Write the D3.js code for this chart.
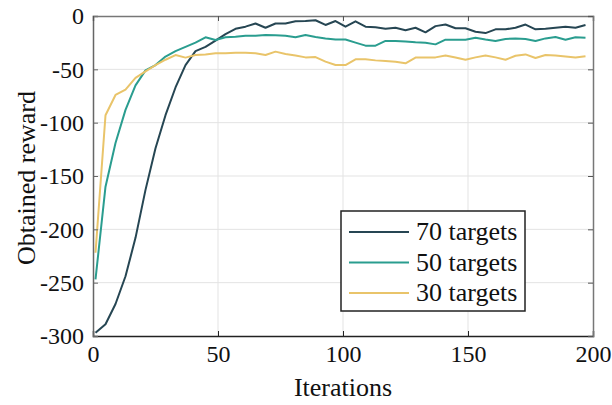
<!DOCTYPE html>
<html>
<head>
<meta charset="utf-8">
<script src="https://cdn.jsdelivr.net/npm/d3@7"></script>
<style>
  body { margin: 0; background: #fff; }
  svg text { font-family: 'Liberation Serif', serif !important; fill: #111; }
</style>
</head>
<body>
<svg id="chart" width="612" height="405"></svg>
<script>
// iterations where each run was sampled
var iterations = [1, 5, 9, 13, 17, 21, 25, 29, 33, 37, 41, 45, 49, 53, 57, 61, 65, 69, 73, 77,
    81, 85, 89, 93, 97, 101, 105, 109, 113, 117, 121, 125, 129, 133, 137, 141, 145, 149, 153, 157,
    161, 165, 169, 173, 177, 181, 185, 189, 193, 197];

var reward70 = [-297, -289, -270, -244, -208, -163, -124, -93, -67, -46, -33, -29, -23, -17, -12, -10, -7, -11, -7, -7,
    -5, -4.7, -4, -8.4, -4.7, -10, -5, -10, -10.6, -12, -11, -13.4, -11, -15.3, -9.5, -8, -11.5, -11.5, -14.7, -16,
    -12.5, -12.5, -11, -8, -12.5, -12, -11, -10, -11, -8.5];

var reward50 = [-247, -160, -119, -88, -65, -51, -46, -38, -33, -29, -25, -20, -22.5, -20, -19.4, -18.5, -18.5, -17.8, -18, -18.5,
    -20, -17.8, -19.7, -21, -22, -22, -25, -27.8, -27.8, -23.4, -23.4, -24, -24.7, -25, -26.6, -22.2, -22.2, -22.2, -20.3, -22,
    -23.4, -21.5, -21, -21.5, -23.4, -21, -19.7, -22.2, -20, -20.3];

var reward30 = [-222, -93, -74, -69, -58, -52, -46, -41, -36.6, -39, -36.6, -36, -35, -35, -34.4, -34.4, -35, -36.6, -33.4, -35.6,
    -37, -38.8, -38.5, -42.8, -46, -46, -40.6, -40.6, -41.6, -42.2, -42.8, -44.4, -39, -39, -38.8, -37, -39, -41, -38.8, -37,
    -38.8, -41, -37.3, -36, -39.4, -36.6, -37, -38, -39, -37.7];

var seriesNames = ["70 targets", "50 targets", "30 targets"];
var seriesColors = ["#264653", "#2a9d8f", "#e9c46a"];
var xTicks = [0, 50, 100, 150, 200];
var yTicks = [0, -50, -100, -150, -200, -250, -300];

var svg = d3.select("#chart");
var pL = 93, pR = 593, pT = 16, pB = 336;

var x = d3.scaleLinear().domain([0, 200]).range([pL, pR]);
var y = d3.scaleLinear().domain([-300, 0]).range([pB, pT]);

// grid
svg.append("g").selectAll("line").data(xTicks.slice(1, -1)).enter().append("line")
    .attr("x1", function(d) { return x(d); }).attr("x2", function(d) { return x(d); })
    .attr("y1", pT).attr("y2", pB)
    .attr("stroke", "#e3e3e3").attr("stroke-width", 1);
svg.append("g").selectAll("line").data(yTicks.slice(1, -1)).enter().append("line")
    .attr("y1", function(d) { return y(d); }).attr("y2", function(d) { return y(d); })
    .attr("x1", pL).attr("x2", pR)
    .attr("stroke", "#e3e3e3").attr("stroke-width", 1);

// lines
var allSeries = [reward70, reward50, reward30];
var line = d3.line()
    .x(function(d, i) { return x(iterations[i]); })
    .y(function(d) { return y(d); });

svg.append("g").selectAll("path").data(allSeries).enter().append("path")
    .attr("d", line)
    .attr("fill", "none")
    .attr("stroke", function(d, i) { return seriesColors[i]; })
    .attr("stroke-width", 2)
    .attr("stroke-linejoin", "round");

// axes (ticks pointing inward, box on all sides)
var fmt = function(d) { return String(d); };

svg.append("g").attr("transform", "translate(0," + pB + ")")
    .call(d3.axisBottom(x).tickValues(xTicks).tickSize(-5).tickPadding(9).tickFormat(fmt))
    .call(function(g) {
        g.select(".domain").attr("stroke", "#222").attr("stroke-width", 1.5);
        g.selectAll(".tick line").attr("stroke", "#222");
        g.selectAll("text").style("font-size", "24px");
    });

svg.append("g").attr("transform", "translate(" + pL + ",0)")
    .call(d3.axisLeft(y).tickValues(yTicks).tickSize(-5).tickPadding(9).tickFormat(fmt))
    .call(function(g) {
        g.select(".domain").attr("stroke", "#666").attr("stroke-width", 1.5);
        g.selectAll(".tick line").attr("stroke", "#666");
        g.selectAll("text").style("font-size", "24px");
    });

svg.append("g").attr("transform", "translate(0," + pT + ")")
    .call(d3.axisTop(x).tickValues(xTicks).tickSize(-5).tickFormat(""))
    .call(function(g) {
        g.select(".domain").attr("stroke", "#777").attr("stroke-width", 1.5);
        g.selectAll(".tick line").attr("stroke", "#555");
    });

svg.append("g").attr("transform", "translate(" + pR + ",0)")
    .call(d3.axisRight(y).tickValues(yTicks).tickSize(-5).tickFormat(""))
    .call(function(g) {
        g.select(".domain").attr("stroke", "#777").attr("stroke-width", 1.5);
        g.selectAll(".tick line").attr("stroke", "#555");
    });

// axis titles
svg.append("text")
    .attr("x", (pL + pR) / 2).attr("y", 396)
    .attr("text-anchor", "middle")
    .style("font-size", "26px")
    .text("Iterations");

svg.append("text")
    .attr("transform", "translate(35,178) rotate(-90)")
    .attr("text-anchor", "middle")
    .style("font-size", "26px")
    .text("Obtained reward");

// legend
var lg = svg.append("g");
lg.append("rect")
    .attr("x", 341).attr("y", 211).attr("width", 184).attr("height", 100)
    .attr("fill", "#fff").attr("stroke", "#222").attr("stroke-width", 1.5);

var rows = lg.selectAll("g").data(seriesNames).enter().append("g")
    .attr("transform", function(d, i) { return "translate(0," + (232 + i * 30.5) + ")"; });
rows.append("line")
    .attr("x1", 349).attr("x2", 409).attr("y1", 0).attr("y2", 0)
    .attr("stroke", function(d, i) { return seriesColors[i]; })
    .attr("stroke-width", 2);
rows.append("text")
    .attr("x", 416).attr("y", 8)
    .style("font-size", "26px")
    .text(function(d) { return d; });
</script>
</body>
</html>
